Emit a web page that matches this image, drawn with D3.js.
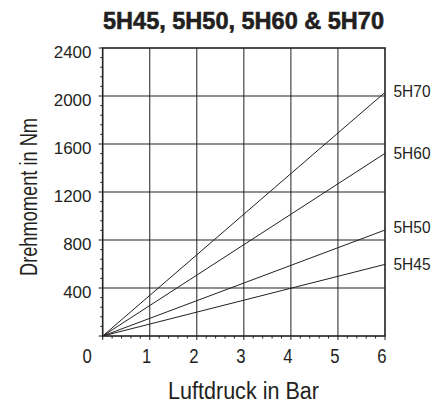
<!DOCTYPE html>
<html><head><meta charset="utf-8">
<script src="https://cdn.jsdelivr.net/npm/d3@7"></script>
<style>body{margin:0;background:#fff}svg{display:block}</style>
</head><body><svg id="c" width="443" height="403"></svg>
<script>
const title = "5H45, 5H50, 5H60 & 5H70";
const xLabel = "Luftdruck in Bar";
const yLabel = "Drehmoment in Nm";
const models = ["5H45", "5H50", "5H60", "5H70"];
const pressure = [0, 6];
const torque5H45 = [0, 597];
const torque5H50 = [0, 883];
const torque5H60 = [0, 1522];
const torque5H70 = [0, 2030];
const xTicks = [0, 1, 2, 3, 4, 5, 6];
const yTicks = [400, 800, 1200, 1600, 2000, 2400];

const series = [torque5H45, torque5H50, torque5H60, torque5H70].map((v, i) => ({
  name: models[i], pts: pressure.map((p, j) => [p, v[j]])
}));

const svg = d3.select("#c");
const L = 102.7, R = 385, T = 48, B = 336;
const x = d3.scaleLinear().domain([0, 6]).range([L, R]);
const y = d3.scaleLinear().domain([0, 2400]).range([B, T]);
const ink = "#231f20";
const reg = "'Liberation Sans', Arial, sans-serif";

// grid
const g = svg.append("g");
g.selectAll(".vg").data(xTicks.slice(1, -1)).join("line")
  .attr("x1", d => x(d)).attr("x2", d => x(d)).attr("y1", T).attr("y2", B)
  .attr("stroke", ink).attr("stroke-width", 1);
g.selectAll(".hg").data(yTicks.slice(0, -1)).join("line")
  .attr("x1", L).attr("x2", R).attr("y1", d => y(d)).attr("y2", d => y(d))
  .attr("stroke", ink).attr("stroke-width", 1);

// minor ticks
const yMinor = d3.range(0, 2401, 80);
g.selectAll(".ym").data(yMinor).join("line")
  .attr("x1", d => (d % 400 === 0 ? L - 4 : L - 2.5)).attr("x2", L)
  .attr("y1", d => y(d)).attr("y2", d => y(d))
  .attr("stroke", ink).attr("stroke-width", 1);
const xMinor = d3.range(0, 6.01, 0.2);
g.selectAll(".xm").data(xMinor).join("line")
  .attr("x1", d => x(d)).attr("x2", d => x(d))
  .attr("y1", B).attr("y2", d => (Math.abs(d - Math.round(d)) < 1e-6 ? B + 4 : B + 2.5))
  .attr("stroke", ink).attr("stroke-width", 1);

// frame
g.append("rect").attr("x", L).attr("y", T).attr("width", R - L).attr("height", B - T)
  .attr("fill", "none").attr("stroke", ink).attr("stroke-width", 1.6);

// series lines
const line = d3.line().x(d => x(d[0])).y(d => y(d[1]));
svg.selectAll(".s").data(series).join("path")
  .attr("d", d => line(d.pts)).attr("fill", "none")
  .attr("stroke", ink).attr("stroke-width", 1);

// series labels
const labelDy = {"5H45": 5.8, "5H50": 2.5, "5H60": 5.3, "5H70": 4.8};
svg.selectAll(".sl").data(series).join("text")
  .attr("x", R + 8.5).attr("y", d => y(d.pts[1][1]) + labelDy[d.name])
  .attr("font-family", reg).attr("font-size", 16.5).attr("fill", ink)
  .attr("textLength", 37).attr("lengthAdjust", "spacingAndGlyphs")
  .text(d => d.name);

// y tick labels
svg.selectAll(".yl").data(yTicks).join("text")
  .attr("x", 91.5).attr("y", d => y(d) + 10)
  .attr("text-anchor", "end").attr("font-family", reg).attr("font-size", 17)
  .attr("fill", ink).text(d => d);

// x tick labels
svg.selectAll(".xl").data(xTicks).join("text")
  .attr("x", d => x(d) + (d === 0 ? -15.5 : -3)).attr("y", 362.7)
  .attr("text-anchor", "middle").attr("font-family", reg).attr("font-size", 20)
  .attr("textLength", 9.3).attr("lengthAdjust", "spacingAndGlyphs")
  .attr("fill", ink).text(d => d);

// axis titles
svg.append("text").attr("x", 243.5).attr("y", 399)
  .attr("text-anchor", "middle").attr("font-family", reg).attr("font-size", 23.5)
  .attr("textLength", 151).attr("lengthAdjust", "spacingAndGlyphs")
  .attr("fill", ink).text(xLabel);
svg.append("text").attr("transform", "translate(36.5,197) rotate(-90)")
  .attr("text-anchor", "middle").attr("font-family", reg).attr("font-size", 23)
  .attr("textLength", 158).attr("lengthAdjust", "spacingAndGlyphs")
  .attr("fill", ink).text(yLabel);

// title
svg.append("text").attr("x", 243.5).attr("y", 29.3)
  .attr("text-anchor", "middle").attr("font-family", reg).attr("font-weight", "bold")
  .attr("font-size", 24.5).attr("textLength", 281).attr("lengthAdjust", "spacingAndGlyphs")
  .attr("stroke", ink).attr("stroke-width", 0.6)
  .attr("fill", ink).text(title);
</script></body></html>
